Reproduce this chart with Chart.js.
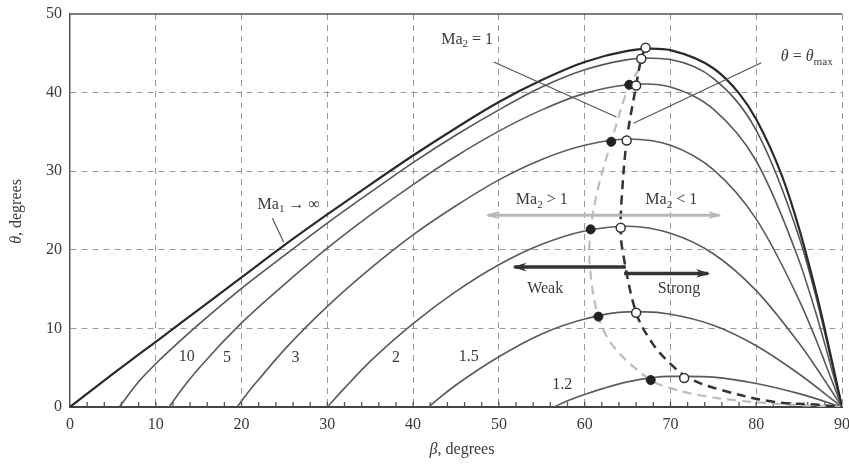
<!DOCTYPE html>
<html>
<head>
<meta charset="utf-8">
<script src="https://cdn.jsdelivr.net/npm/chart.js@4/dist/chart.umd.min.js"></script>
<style>
  body { margin: 0; background: #fff; }
</style>
</head>
<body>
<canvas id="shockchart" width="849" height="470"></canvas>
<script>
// theta-beta-Ma curves (beta = shock angle, theta = deflection)
const betaInf  = [0,5,10,15,20,25,30,35,40,45,50,55,60,65,67.8,70,75,78,80,83,85,87,88,89,90];
const thetaInf = [0,4.2,8.3,12.4,16.5,20.6,24.5,28.3,32.0,35.5,38.8,41.6,43.9,45.3,45.6,45.4,43.1,39.9,36.6,29.4,22.7,14.5,9.9,5.0,0];

const beta10  = [5.74,8,10,15,20,25,30,35,40,45,50,55,60,65,67,70,75,80,85,87,88,89,90];
const theta10 = [0,3.2,5.5,10.5,15.1,19.3,23.4,27.3,31.1,34.6,37.8,40.7,42.9,44.2,44.4,44.2,41.8,35.2,21.6,13.9,9.4,4.7,0];

const beta5  = [11.54,13,15,20,25,30,35,40,45,50,55,60,65,67,70,75,80,85,87,88,89,90];
const theta5 = [0,2.2,4.9,10.7,15.6,20.2,24.4,28.3,31.9,35.1,37.8,39.9,41.0,41.1,40.7,37.9,31.3,18.6,11.8,8.0,4.0,0];

const beta3  = [19.47,21,22,25,30,35,40,45,50,55,60,65,70,75,80,85,87,88,90];
const theta3 = [0,2.2,3.5,7.3,12.8,17.6,21.9,25.6,28.9,31.5,33.3,34.1,33.3,30.2,23.9,13.6,8.5,5.7,0];

const beta2  = [30,32,35,40,45,50,55,60,65,70,75,80,85,87,90];
const theta2 = [0,2.4,5.8,10.6,14.7,18.1,20.7,22.4,23.0,22.1,19.5,14.8,8.1,5.0,0];

const beta15  = [41.81,43,45,50,55,60,65,67,70,75,80,85,90];
const theta15 = [0,1.1,2.8,6.4,9.3,11.2,12.1,12.1,11.8,10.4,7.8,4.2,0];

const beta12  = [56.44,58,60,65,70,72,75,80,85,90];
const theta12 = [0,0.8,1.6,3.2,3.9,3.9,3.8,3.0,1.7,0];

// theta = theta_max locus (open circles) and Ma2 = 1 locus (filled dots)
const betaMaxLine  = [67.1,66.6,66.0,64.9,64.3,64.2,64.4,66.0,67.9,69.9,72.1,75.8,81.8,87.6,90];
const thetaMaxLine = [45.7,44.3,40.9,33.9,26.3,22.8,20.0,12.0,8.1,5.6,3.7,2.2,0.7,0.25,0];
const betaSonicLine  = [66.4,65.2,63.1,61.6,60.7,60.6,61.6,63.5,67.7,70.0,73.4,78,84,90];
const thetaSonicLine = [43.0,41.0,33.75,28,22.6,18,11.5,7.5,3.43,2.4,1.5,0.8,0.3,0];

const betaMaxPts  = [67.1,66.6,66.0,64.9,64.2,66.0,71.6];
const thetaMaxPts = [45.7,44.3,40.9,33.9,22.8,12.0,3.7];
const betaSonicPts  = [65.2,63.1,60.7,61.6,67.7];
const thetaSonicPts = [41.0,33.75,22.6,11.5,3.43];

const machNames = ['10','5','3','2','1.5','1.2'];
const machLabelBeta  = [13.6,18.3,26.3,38.0,46.5,57.4];
const machLabelTheta = [6.4,6.2,6.2,6.2,6.4,2.8];

const xTicks = [0,10,20,30,40,50,60,70,80,90];
const yTicks = [0,10,20,30,40,50];

const pts = (b, t) => b.map((v, i) => ({x: v, y: t[i]}));

const curve = (b, t, color, width) => ({
  data: pts(b, t), showLine: true, pointRadius: 0,
  borderColor: color, borderWidth: width,
  cubicInterpolationMode: 'monotone', order: 3
});

const serif = "'Liberation Serif', 'Times New Roman', serif";
Chart.defaults.font.family = serif;

// draw "Ma" + subscript style text pieces
function richText(ctx, parts, x, y, size, color, align) {
  ctx.save();
  ctx.fillStyle = color;
  ctx.textBaseline = 'middle';
  let w = 0;
  parts.forEach(p => {
    ctx.font = (p.it ? 'italic ' : '') + (p.sub ? size * 0.7 : size) + 'px ' + serif;
    p.w = ctx.measureText(p.t).width;
    w += p.w;
  });
  let cx = align === 'left' ? x : x - w / 2;
  parts.forEach(p => {
    ctx.font = (p.it ? 'italic ' : '') + (p.sub ? size * 0.7 : size) + 'px ' + serif;
    ctx.textAlign = 'left';
    ctx.fillText(p.t, cx, p.sub ? y + size * 0.28 : y);
    cx += p.w;
  });
  ctx.restore();
}

function arrow(ctx, x1, y1, x2, y2, color, width, head) {
  ctx.save();
  ctx.strokeStyle = color; ctx.fillStyle = color; ctx.lineWidth = width;
  ctx.beginPath(); ctx.moveTo(x1, y1); ctx.lineTo(x2, y2); ctx.stroke();
  const a = Math.atan2(y2 - y1, x2 - x1);
  ctx.beginPath();
  ctx.moveTo(x2 + 2 * Math.cos(a), y2 + 2 * Math.sin(a));
  ctx.lineTo(x2 - head * Math.cos(a - 0.35), y2 - head * Math.sin(a - 0.35));
  ctx.lineTo(x2 - head * 0.6 * Math.cos(a), y2 - head * 0.6 * Math.sin(a));
  ctx.lineTo(x2 - head * Math.cos(a + 0.35), y2 - head * Math.sin(a + 0.35));
  ctx.closePath(); ctx.fill();
  ctx.restore();
}

const annotations = {
  id: 'annotations',
  beforeDatasetsDraw(chart) {
    const {ctx, chartArea: ca, scales: {x, y}} = chart;
    ctx.save();
    // solid top frame
    ctx.strokeStyle = '#555'; ctx.lineWidth = 1.5;
    ctx.beginPath(); ctx.moveTo(ca.left, ca.top); ctx.lineTo(ca.right, ca.top); ctx.stroke();
    // minor ticks on beta axis, pointing into the plot
    ctx.strokeStyle = '#555'; ctx.lineWidth = 1.3;
    for (let v = 2; v < 90; v += 2) {
      const px = x.getPixelForValue(v);
      ctx.beginPath(); ctx.moveTo(px, ca.bottom); ctx.lineTo(px, ca.bottom - 5); ctx.stroke();
    }
    ctx.restore();
  },
  afterDatasetsDraw(chart) {
    const {ctx, chartArea: ca, scales: {x, y}} = chart;
    const X = v => x.getPixelForValue(v), Y = v => y.getPixelForValue(v);
    const txt = '#3a3a3a';

    // Mach number labels on the curves
    machNames.forEach((n, i) => richText(ctx, [{t: n}], X(machLabelBeta[i]), Y(machLabelTheta[i]), 16, txt, 'center'));

    // leader lines
    ctx.save();
    ctx.strokeStyle = '#555'; ctx.lineWidth = 1.2;
    [[23.6, 24.0, 24.9, 21.0], [49.4, 43.9, 63.7, 36.9], [80.6, 43.8, 65.7, 36.1]].forEach(l => {
      ctx.beginPath(); ctx.moveTo(X(l[0]), Y(l[1])); ctx.lineTo(X(l[2]), Y(l[3])); ctx.stroke();
    });
    ctx.restore();

    richText(ctx, [{t: 'Ma'}, {t: '1', sub: true}, {t: ' \u2192 \u221e'}], X(25.5), Y(25.7), 16, txt, 'center');
    richText(ctx, [{t: 'Ma'}, {t: '2', sub: true}, {t: ' = 1'}], X(46.3), Y(46.7), 16, txt, 'center');
    richText(ctx, [{t: '\u03b8', it: true}, {t: ' = '}, {t: '\u03b8', it: true}, {t: 'max', sub: true}], X(85.9), Y(44.5), 16, txt, 'center');

    richText(ctx, [{t: 'Ma'}, {t: '2', sub: true}, {t: ' > 1'}], X(55.0), Y(26.3), 16, txt, 'center');
    richText(ctx, [{t: 'Ma'}, {t: '2', sub: true}, {t: ' < 1'}], X(70.1), Y(26.3), 16, txt, 'center');
    arrow(ctx, X(61.1), Y(24.4), X(48.7), Y(24.4), '#b8b8b8', 3, 12);
    arrow(ctx, X(61.1), Y(24.4), X(75.7), Y(24.4), '#b8b8b8', 3, 12);

    arrow(ctx, X(64.8), Y(17.8), X(51.8), Y(17.8), '#333', 3.5, 13);
    arrow(ctx, X(64.6), Y(17.0), X(74.4), Y(17.0), '#333', 3.5, 13);
    richText(ctx, [{t: 'Weak'}], X(55.4), Y(15.1), 16, txt, 'center');
    richText(ctx, [{t: 'Strong'}], X(71.0), Y(15.0), 16, txt, 'center');

    // axis titles
    richText(ctx, [{t: '\u03b2', it: true}, {t: ', degrees'}], (ca.left + ca.right) / 2 + 6, ca.bottom + 43, 16, txt, 'center');
    ctx.save();
    ctx.translate(17, (ca.top + ca.bottom) / 2 + 1);
    ctx.rotate(-Math.PI / 2);
    richText(ctx, [{t: '\u03b8', it: true}, {t: ', degrees'}], 0, 0, 16, txt, 'center');
    ctx.restore();
  }
};

new Chart(document.getElementById('shockchart'), {
  type: 'scatter',
  data: {
    datasets: [
      {data: pts(betaMaxPts, thetaMaxPts), pointRadius: 4.5, pointBackgroundColor: '#fff',
       pointBorderColor: '#333', pointBorderWidth: 1.5, order: 0},
      {data: pts(betaSonicPts, thetaSonicPts), pointRadius: 4.5, pointBackgroundColor: '#222',
       pointBorderColor: '#222', order: 1},
      {data: pts(betaMaxLine, thetaMaxLine), showLine: true, pointRadius: 0, borderColor: '#333',
       borderWidth: 2.5, borderDash: [9, 6], tension: 0.35, order: 2},
      {data: pts(betaSonicLine, thetaSonicLine), showLine: true, pointRadius: 0, borderColor: '#bdbdbd',
       borderWidth: 2.2, borderDash: [9, 6], tension: 0.35, order: 2},
      curve(betaInf, thetaInf, '#2a2a2a', 2.2),
      curve(beta10, theta10, '#555', 1.6),
      curve(beta5, theta5, '#5a5a5a', 1.6),
      curve(beta3, theta3, '#5a5a5a', 1.6),
      curve(beta2, theta2, '#5a5a5a', 1.6),
      curve(beta15, theta15, '#5a5a5a', 1.6),
      curve(beta12, theta12, '#5a5a5a', 1.6)
    ]
  },
  options: {
    responsive: false,
    animation: false,
    devicePixelRatio: 1,
    layout: {padding: {left: 0, right: 7, top: 14, bottom: 0}},
    plugins: {legend: {display: false}, tooltip: {enabled: false}},
    scales: {
      x: {
        type: 'linear', min: 0, max: 90,
        afterFit: s => { s.height = 63; s.paddingLeft = 0; s.paddingRight = 0; },
        afterBuildTicks: s => { s.ticks = xTicks.map(v => ({value: v})); },
        ticks: {font: {size: 16}, color: '#3a3a3a', padding: 8, maxRotation: 0, autoSkip: false},
        grid: {drawTicks: false, color: c => (c.tick && c.tick.value > 0) ? '#9a9a9a' : 'rgba(0,0,0,0)', lineWidth: 1},
        border: {color: '#444', width: 2, dash: [6, 5]}
      },
      y: {
        type: 'linear', min: 0, max: 50,
        afterFit: s => { s.width = 70; s.paddingTop = 0; s.paddingBottom = 0; },
        afterBuildTicks: s => { s.ticks = yTicks.map(v => ({value: v})); },
        ticks: {font: {size: 16}, color: '#3a3a3a', padding: 8},
        grid: {drawTicks: false, color: c => (c.tick && c.tick.value > 0 && c.tick.value < 50) ? '#9a9a9a' : 'rgba(0,0,0,0)', lineWidth: 1},
        border: {color: '#555', width: 1.5, dash: [6, 5]}
      }
    }
  },
  plugins: [annotations]
});
</script>
</body>
</html>
